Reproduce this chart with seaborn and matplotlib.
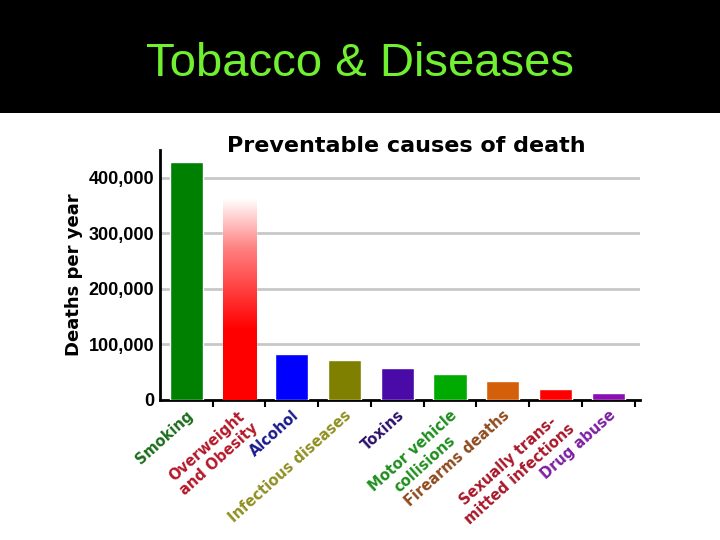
import numpy as np
import pandas as pd
import matplotlib
matplotlib.use("Agg")
import matplotlib.pyplot as plt
import seaborn as sns
from matplotlib.colors import LinearSegmentedColormap

# ---- data ----
causes = ["Smoking", "Overweight\nand Obesity", "Alcohol", "Infectious diseases",
          "Toxins", "Motor vehicle\ncollisions", "Firearms deaths",
          "Sexually trans-\nmitted infections", "Drug abuse"]
deaths = [428000, 362000, 83000, 72000, 58000, 46000, 34000, 19000, 13000]
bar_colors = ["#008000", "#ff0000", "#0000ff", "#808000", "#4a0aa8",
              "#00aa00", "#d45f0a", "#ff0000", "#8a10b0"]
label_colors = ["#1d6b1d", "#b3182a", "#1a1a8c", "#8f8f22", "#2c0f6b",
                "#1f8f1f", "#8f4a1f", "#a8182a", "#7d1fa0"]
yticks = [0, 100000, 200000, 300000, 400000]
ytick_labels = ["0", "100,000", "200,000", "300,000", "400,000"]

df = pd.DataFrame({"cause": causes, "deaths": deaths})

sns.set_theme(style="white")
plt.rcParams["font.family"] = ["Liberation Sans", "DejaVu Sans"]
plt.rcParams["text.color"] = "black"

fig = plt.figure(figsize=(7.2, 5.4), dpi=100)
fig.patch.set_facecolor("white")

# black header band
band = fig.add_axes([0, 1 - 113 / 540, 1, 113 / 540])
band.set_facecolor("black")
band.set_xticks([]); band.set_yticks([])
for s in band.spines.values():
    s.set_visible(False)
fig.text(0.5, 1 - 64 / 540, "Tobacco & Diseases", color="#70f030",
         fontsize=34, ha="center", va="center", family="Liberation Sans")

ax = fig.add_axes([160 / 720, 1 - 400 / 540, 480 / 720, 250 / 540])
sns.barplot(data=df, x="cause", y="deaths", hue="cause", palette=bar_colors,
            legend=False, width=0.63, saturation=1, ax=ax, zorder=3)

# gradient on the overweight bar
p = ax.patches[1]
x0, y0 = p.get_x(), p.get_y()
w, h = p.get_width(), p.get_height()
p.set_facecolor("none")
grad = np.linspace(0, 1, 256).reshape(-1, 1)
cmap = LinearSegmentedColormap.from_list("rg", [(0, "#ff0000"), (0.35, "#ff0000"),
                                                 (0.75, "#ff8080"), (1.0, "#ffffff")])
im = ax.imshow(grad, extent=[x0, x0 + w, y0, y0 + h], origin="lower",
               aspect="auto", cmap=cmap, zorder=3)
im.set_clip_path(p)

ax.set_xlim(-0.5, 8.6)
ax.set_ylim(0, 450000)
ax.set_yticks(yticks)
ax.set_yticklabels(ytick_labels, fontsize=13, fontweight="bold", color="black",
                   family=["Liberation Sans Narrow", "Liberation Sans"])
for yv in yticks[1:]:
    ax.axhline(yv, color="#c8c8c8", lw=2, zorder=1)

ax.set_xticks(np.arange(0.5, 9, 1))
ax.set_xticklabels([])
ax.tick_params(axis="x", length=5, width=1.5, color="black", direction="out", bottom=True)
ax.tick_params(axis="y", length=0, pad=4)
for k in ["top", "right"]:
    ax.spines[k].set_visible(False)
for k in ["left", "bottom"]:
    ax.spines[k].set_color("black")
    ax.spines[k].set_linewidth(2)

ax.set_xlabel("")
ax.set_ylabel("Deaths per year", fontsize=13, fontweight="bold", labelpad=4,
              family="DejaVu Sans", color="black")

for i, (lab, col) in enumerate(zip(causes, label_colors)):
    ax.text(i + 0.0, -14000, lab, color=col, rotation=42, rotation_mode="anchor",
            ha="right", va="top", fontsize=10.5, fontweight="bold",
            multialignment="center", family="DejaVu Sans")

fig.text(406 / 720, 1 - 146 / 540, "Preventable causes of death", fontsize=16,
         fontweight="bold", ha="center", va="center", family="DejaVu Sans",
         color="black")

fig.savefig("out.png", dpi=100)
